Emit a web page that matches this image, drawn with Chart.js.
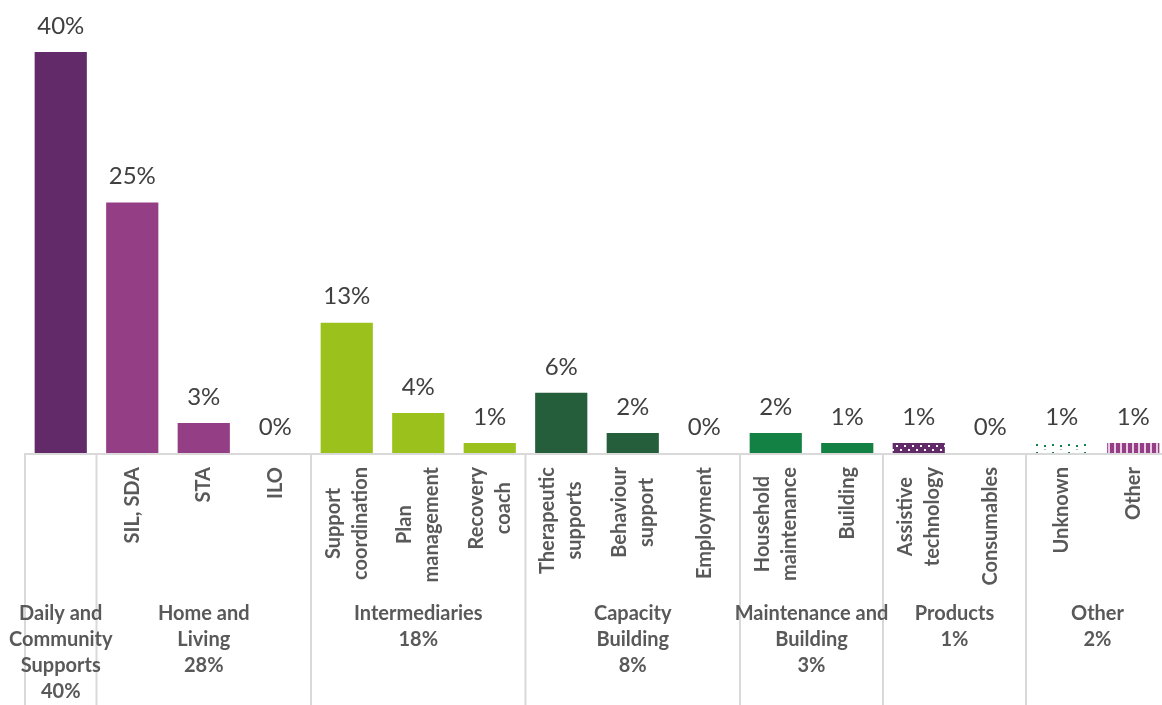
<!DOCTYPE html>
<html>
<head>
<meta charset="utf-8">
<script src="https://cdn.jsdelivr.net/npm/chart.js@4/dist/chart.umd.min.js"></script>
<style>
  html, body { margin: 0; padding: 0; background: #ffffff; overflow: hidden; }
  #wrap { width: 1172px; height: 705px; }
</style>
</head>
<body>
<div id="wrap"><canvas id="c" width="1172" height="705"></canvas></div>
<script>
// Support categories (each entry lists its label lines)
const categories = [
  ['Daily and Community Supports'],
  ['SIL, SDA'], ['STA'], ['ILO'],
  ['Support', 'coordination'], ['Plan', 'management'], ['Recovery', 'coach'],
  ['Therapeutic', 'supports'], ['Behaviour', 'support'], ['Employment'],
  ['Household', 'maintenance'], ['Building'],
  ['Assistive', 'technology'], ['Consumables'],
  ['Unknown'], ['Other']
];
// Share of spending per category (%)
const values = [40, 25, 3, 0, 13, 4, 1, 6, 2, 0, 2, 1, 1, 0, 1, 1];

// Category groups
const groupNames = [
  ['Daily and', 'Community', 'Supports'],
  ['Home and', 'Living'],
  ['Intermediaries'],
  ['Capacity', 'Building'],
  ['Maintenance and', 'Building'],
  ['Products'],
  ['Other']
];
const groupShares = [40, 28, 18, 8, 3, 1, 2];
const groupSizes = [1, 3, 3, 3, 2, 2, 2];

// Fill styles per bar
const PURPLE_DARK = '#622A69';
const PURPLE = '#943E86';
const LIME = '#9BC21C';
const GREEN_DARK = '#255E3B';
const GREEN = '#138044';

function makePattern(w, h, paint) {
  const c = document.createElement('canvas');
  c.width = w; c.height = h;
  const g = c.getContext('2d');
  paint(g);
  return g.createPattern(c, 'repeat');
}
const dotsOnPurple = makePattern(16, 8, g => {
  g.fillStyle = PURPLE_DARK; g.fillRect(0, 0, 16, 8);
  g.fillStyle = '#ffffff';
  g.fillRect(4, 1, 2, 2); g.fillRect(12, 1, 2, 2);
  g.fillRect(0, 5, 2, 2); g.fillRect(8, 5, 2, 2);
});
const dotsOnWhite = makePattern(16, 8, g => {
  g.fillStyle = '#ffffff'; g.fillRect(0, 0, 16, 8);
  g.fillStyle = 'rgba(19,128,68,0.45)';
  g.fillRect(4, 1, 2, 1);
  g.fillStyle = GREEN;
  g.fillRect(4, 5, 2, 2); g.fillRect(12, 4, 2, 2);
});
const stripesOnPurple = makePattern(6, 6, g => {
  g.fillStyle = PURPLE; g.fillRect(0, 0, 6, 6);
  g.fillStyle = '#e9c9e3'; g.fillRect(4, 0, 2, 6);
});

const fills = [
  PURPLE_DARK,
  PURPLE, PURPLE, PURPLE,
  LIME, LIME, LIME,
  GREEN_DARK, GREEN_DARK, GREEN_DARK,
  GREEN, GREEN,
  dotsOnPurple, PURPLE_DARK,
  dotsOnWhite, stripesOnPurple
];

const GRID = '#D9D9D9';
const LABEL = '#595959';
const VALUE = '#404040';
const AXIS_FONT = 'bold 20px Lato, "Open Sans", sans-serif';

// Value labels above bars, category labels and group labels below the axis
const annotate = {
  id: 'annotate',
  afterDatasetsDraw(chart) {
    const { ctx, chartArea } = chart;
    const x = chart.scales.x;
    const meta = chart.getDatasetMeta(0);
    const base = chartArea.bottom;
    ctx.save();

    // value labels
    ctx.fillStyle = VALUE;
    ctx.font = '24px Lato, "Open Sans", sans-serif';
    ctx.textAlign = 'center';
    ctx.textBaseline = 'middle';
    meta.data.forEach((bar, i) => {
      ctx.fillText(values[i] + '%', bar.x, bar.y - 26);
    });

    // axis line
    ctx.strokeStyle = GRID;
    ctx.lineWidth = 2;
    ctx.beginPath();
    ctx.moveTo(chartArea.left - 1, base + 1);
    ctx.lineTo(chartArea.right + 1, base + 1);
    ctx.stroke();

    // group separators
    const step = x.getPixelForValue(1) - x.getPixelForValue(0);
    const seps = [];
    let idx = 0;
    seps.push(x.getPixelForValue(0) - step / 2);
    groupSizes.forEach(n => { idx += n; seps.push(x.getPixelForValue(idx - 1) + step / 2); });
    seps.forEach(px => {
      ctx.beginPath();
      ctx.moveTo(px, base);
      ctx.lineTo(px, chart.height);
      ctx.stroke();
    });

    // rotated category labels
    ctx.fillStyle = LABEL;
    ctx.font = AXIS_FONT;
    const lineGap = 27;
    const top = base + 14;
    categories.forEach((lines, i) => {
      if (i === 0) return; // single-category group carries its name below
      const cx = x.getPixelForValue(i);
      const w = Math.max(...lines.map(l => ctx.measureText(l).width));
      const cy = top + w / 2;
      lines.forEach((l, k) => {
        const off = (k - (lines.length - 1) / 2) * lineGap;
        ctx.save();
        ctx.translate(cx + off, cy);
        ctx.rotate(-Math.PI / 2);
        ctx.textAlign = 'center';
        ctx.textBaseline = 'middle';
        ctx.fillText(l, 0, 0);
        ctx.restore();
      });
    });

    // group labels
    ctx.textAlign = 'center';
    ctx.textBaseline = 'middle';
    idx = 0;
    groupNames.forEach((name, g) => {
      const first = idx, last = idx + groupSizes[g] - 1;
      idx += groupSizes[g];
      const cx = (x.getPixelForValue(first) + x.getPixelForValue(last)) / 2;
      const lines = name.concat([groupShares[g] + '%']);
      lines.forEach((l, k) => {
        ctx.fillText(l, cx, 614 + k * 26);
      });
    });
    ctx.restore();
  }
};

new Chart(document.getElementById('c'), {
  type: 'bar',
  data: {
    labels: categories.map(l => l.join(' ')),
    datasets: [{
      data: values,
      backgroundColor: fills,
      borderWidth: 0,
      barPercentage: 0.73,
      categoryPercentage: 1
    }]
  },
  options: {
    responsive: false,
    animation: false,
    events: [],
    layout: { padding: { left: 25, right: 3, top: 2, bottom: 252 } },
    plugins: { legend: { display: false }, tooltip: { enabled: false } },
    scales: {
      x: { display: false },
      y: { display: false, min: 0, max: 45 }
    }
  },
  plugins: [annotate]
});
</script>
</body>
</html>
